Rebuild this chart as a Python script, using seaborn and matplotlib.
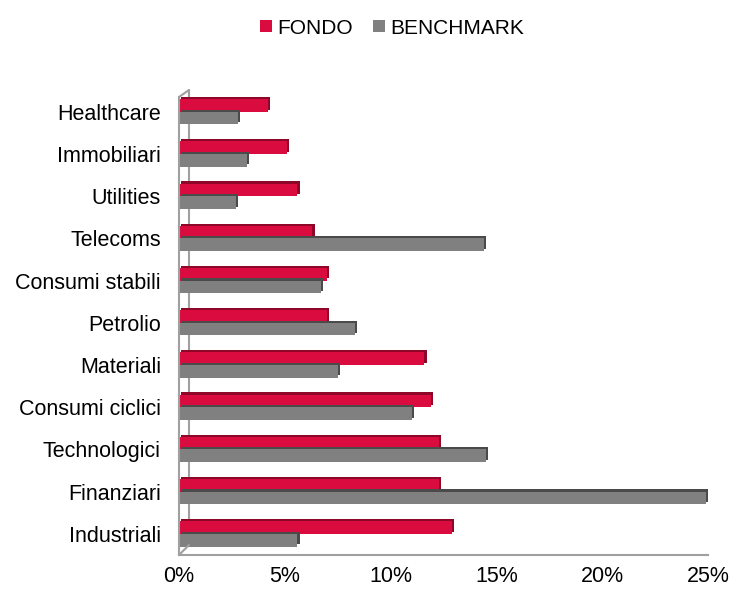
import matplotlib
matplotlib.use('Agg')
import matplotlib.pyplot as plt
import matplotlib.patheffects as pe
from matplotlib.patches import Patch
from matplotlib.ticker import FuncFormatter, FixedLocator
import seaborn as sns
import pandas as pd

categories = ['Healthcare', 'Immobiliari', 'Utilities', 'Telecoms', 'Consumi stabili',
              'Petrolio', 'Materiali', 'Consumi ciclici', 'Technologici', 'Finanziari',
              'Industriali']
fondo = [4.2, 5.1, 5.6, 6.3, 7.0, 7.0, 11.6, 11.9, 12.3, 12.3, 12.9]
benchmark = [2.8, 3.2, 2.7, 14.4, 6.7, 8.3, 7.5, 11.0, 14.5, 24.9, 5.6]
series = ['FONDO', 'BENCHMARK']
colors = {'FONDO': '#DA0B3E', 'BENCHMARK': '#808080'}
dark = {'FONDO': '#8E0628', 'BENCHMARK': '#4A4A4A'}

df = pd.DataFrame({
    'Settore': categories * 2,
    'Peso': fondo + benchmark,
    'Serie': ['FONDO'] * len(categories) + ['BENCHMARK'] * len(categories),
})

sns.set_style('white')
plt.rcParams['font.family'] = ['Liberation Sans', 'DejaVu Sans']
plt.rcParams['text.color'] = 'black'
plt.rcParams['xtick.labelcolor'] = 'black'
plt.rcParams['ytick.labelcolor'] = 'black'

fig = plt.figure(figsize=(7.32, 5.89), dpi=100)
ax = fig.add_axes([179 / 732, 1 - 555 / 589, 529 / 732, 458 / 589])

sns.barplot(data=df, y='Settore', x='Peso', hue='Serie', hue_order=series,
            order=categories, palette=colors, width=0.6, gap=0, saturation=1,
            legend=False, ax=ax)

# fake 3d side faces
n = len(categories)
for i, p in enumerate(ax.patches):
    s = series[0] if i < n else series[1]
    p.set_edgecolor('none')
    p.set_path_effects([pe.SimplePatchShadow(offset=(1.6, 1.6), shadow_rgbFace=dark[s], alpha=1),
                        pe.Normal()])

ax.set_xlim(0, 25)
ax.set_ylim(10.5, -0.35)
ax.set_xticks([0, 5, 10, 15, 20, 25])
ax.xaxis.set_major_formatter(FuncFormatter(lambda v, _: f'{v:.0f}%'))
ax.tick_params(axis='x', length=4, width=1, color='#A0A0A0', pad=4, labelsize=15.5)
ax.tick_params(axis='y', which='major', length=0, pad=13, labelsize=15.5)
ax.yaxis.set_minor_locator(FixedLocator([i + 0.5 for i in range(-1, n)]))
ax.tick_params(axis='y', which='minor', length=4, width=1, color='#A0A0A0')
ax.set_xlabel('')
ax.set_ylabel('')

for side in ['top', 'right']:
    ax.spines[side].set_visible(False)
for side in ['left', 'bottom']:
    ax.spines[side].set_color('#A0A0A0')
    ax.spines[side].set_linewidth(1.5)

# back wall of the 3d frame
dx, dy = 10 / 529, 10 / 458
ax.plot([dx, dx], [dy, 1 + dy * 0.7], transform=ax.transAxes, color='#A0A0A0',
        lw=1.5, clip_on=False, zorder=0)
ax.plot([0, dx], [0, dy], transform=ax.transAxes, color='#A0A0A0', lw=1.5, clip_on=False)
ax.plot([0, dx], [1, 1 + dy * 0.7], transform=ax.transAxes, color='#A0A0A0', lw=1.5,
        clip_on=False)

handles = [Patch(facecolor=colors[s], edgecolor='none', label=s) for s in series]
fig.legend(handles=handles, loc='center', bbox_to_anchor=(392 / 732, 1 - 28 / 589),
           ncol=2, frameon=False, fontsize=15, handlelength=0.55, handleheight=0.55,
           handletextpad=0.25, columnspacing=1.0)

fig.savefig('out.png', dpi=100)
